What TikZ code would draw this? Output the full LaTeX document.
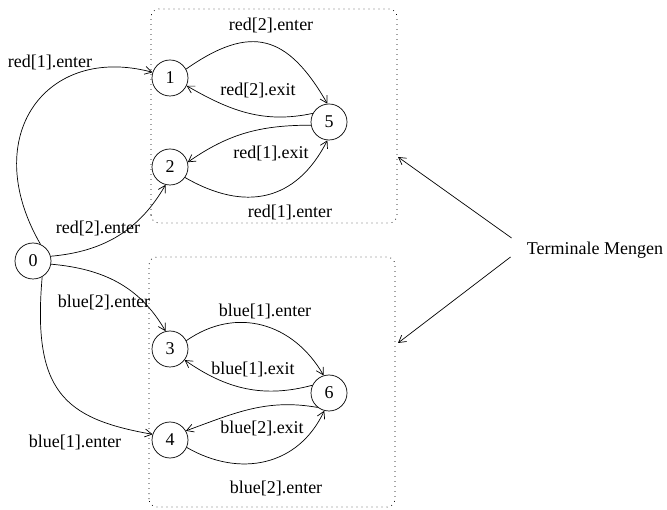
\documentclass[tikz,border=0pt]{standalone}
\usepackage{fontspec}
\setmainfont{Liberation Serif}
\usetikzlibrary{arrows.meta}

\begin{document}
\begin{tikzpicture}[x=1pt,y=1pt,line width=0.7pt,
        font=\fontsize{18}{20}\selectfont,
        zust/.style={circle,draw,minimum size=36pt,inner sep=0pt},
        kante/.style={-{Straight Barb[length=7pt,width=8pt]}},
        menge/.style={dash pattern=on 0.8pt off 4.2pt,rounded corners=8pt}]

                \useasboundingbox (0,0) rectangle (667,509);

                % The two terminal sets
                \draw[menge] (151,286) rectangle (397,500);
                \draw[menge] (149,2) rectangle (395,252);

                % States
                \foreach \nam/\x/\y in {0/33/248, 1/170/431, 2/170/342, 5/329/387,
                                        3/170/160, 4/170/69, 6/329/116} {
                    \node[zust] (n\nam) at (\x,\y) {\nam};
                }

                % Transitions of red
                \draw[kante] (n0.66) .. controls +(120:125) and +(165:110) .. (n1.162);
                \draw[kante] (n0.15) to[out=5,in=240] (n2.256);
                \draw[kante] (n1.29) to[out=35,in=120,looseness=1.4] (n5.95);
                \draw[kante] (n5.152) to[out=192,in=-30] (n1.-25);
                \draw[kante] (n5.190) to[out=180,in=35] (n2.15);
                \draw[kante] (n2.-35) to[out=-30,in=243,looseness=1.2] (n5.265);

                % Transitions of blue
                \draw[kante] (n0.-10) to[out=-5,in=120] (n3.104);
                \draw[kante] (n0.-60) .. controls +(-95:115) and +(170:90) .. (n4.162);
                \draw[kante] (n3.27) to[out=35,in=120,looseness=1.1] (n6.107);
                \draw[kante] (n6.155) to[out=195,in=-35] (n3.-37);
                \draw[kante] (n6.232) to[out=170,in=20] (n4.30);
                \draw[kante] (n4.-24) to[out=-30,in=245,looseness=1.1] (n6.255);

                % Edge labels
                \foreach \nam/\x/\y/\txt in {
                r1e/50/447/{red[1].enter},
                r2e/271/484/{red[2].enter},
                r2x/258/419/{red[2].exit},
                r1x/271/356/{red[1].exit},
                r1eb/290/297/{red[1].enter},
                r2el/98/281/{red[2].enter},
                b2el/104/207/{blue[2].enter},
                b1el/75/67/{blue[1].enter},
                b1e/265/198/{blue[1].enter},
                b1x/253/140/{blue[1].exit},
                b2x/262/81/{blue[2].exit},
                b2eb/276/21/{blue[2].enter}} {
                \node[inner sep=0pt] (\nam) at (\x,\y) {\txt};
                }

                % Pointer to the sets
                \node[inner sep=0pt] (tm) at (595,259) {Terminale Mengen};
                \coordinate (zo) at (398,352);
                \coordinate (zu) at (398,166);
                \draw[kante] ([shift={(-15,12)}]tm.west) -- (zo);
                \draw[kante] ([shift={(-16,-7)}]tm.west) -- (zu);

            \end{tikzpicture}
\end{document}
